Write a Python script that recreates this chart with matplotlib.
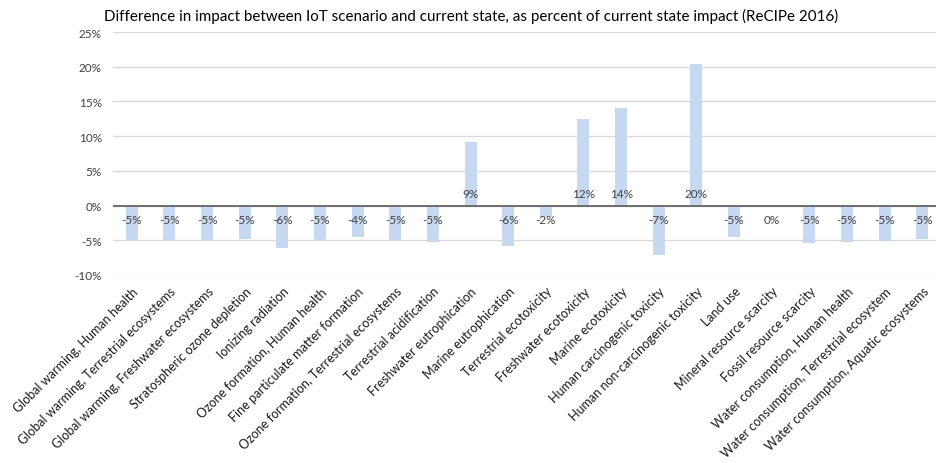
import matplotlib.pyplot as plt
import numpy as np

plt.rcParams['font.family'] = ['Lato', 'DejaVu Sans']

# Catégories d'impact (ReCiPe 2016)
categories = [
    'Global warming, Human health',
    'Global warming, Terrestrial ecosystems',
    'Global warming, Freshwater ecosystems',
    'Stratospheric ozone depletion',
    'Ionizing radiation',
    'Ozone formation, Human health',
    'Fine particulate matter formation',
    'Ozone formation, Terrestrial ecosystems',
    'Terrestrial acidification',
    'Freshwater eutrophication',
    'Marine eutrophication',
    'Terrestrial ecotoxicity',
    'Freshwater ecotoxicity',
    'Marine ecotoxicity',
    'Human carcinogenic toxicity',
    'Human non-carcinogenic toxicity',
    'Land use',
    'Mineral resource scarcity',
    'Fossil resource scarcity',
    'Water consumption, Human health',
    'Water consumption, Terrestrial ecosystem',
    'Water consumption, Aquatic ecosystems',
]

# Différence en pourcentage
values = [-5.0, -5.0, -5.0, -4.85, -6.1, -5.0, -4.5, -5.0, -5.2, 9.1,
          -5.85, -1.7, 12.4, 14.0, -7.05, 20.4, -4.55, 0.0, -5.45, -5.2,
          -5.15, -4.75]

fig = plt.figure(figsize=(9.36, 4.64), dpi=100)
ax = fig.add_axes([113 / 936, 1 - 276 / 464, 828 / 936, 243 / 464])

x = np.arange(len(categories))
ax.bar(x, values, width=0.32, color='#c6d9f0', zorder=2)

ax.set_xlim(-0.5, len(categories) - 0.5)
ax.set_ylim(-10, 25)
ax.set_yticks(range(-10, 30, 5))
ax.set_yticklabels([f'{v}%' for v in range(-10, 30, 5)], fontsize=8.5, color='#404040')
ax.yaxis.grid(True, color='#d9d9d9', linewidth=1, zorder=0)
ax.axhline(0, color='#595959', linewidth=1.2, zorder=3)
for s in ax.spines.values():
    s.set_visible(False)
ax.tick_params(length=0, pad=8)

ax.set_xticks(x)
ax.set_xticklabels(categories, rotation=45, ha='right', rotation_mode='anchor',
                   fontsize=9, color='#1a1a1a')
ax.tick_params(axis='x', pad=7)

for xi, v in zip(x, values):
    lab = f'{round(v):d}%'
    if v > 0:
        ax.annotate(lab, (xi, 0), xytext=(0, 9), textcoords='offset points',
                    ha='center', va='center', fontsize=8.5, color='#404040', zorder=4)
    else:
        ax.annotate(lab, (xi, 0), xytext=(0, -10), textcoords='offset points',
                    ha='center', va='center', fontsize=8.5, color='#404040', zorder=4)

fig.text(471 / 936, 1 - 16 / 464,
         'Difference in impact between IoT scenario and current state, as percent of current state impact (ReCIPe 2016)',
         ha='center', va='center', fontsize=10.9, color='#000000')

plt.savefig('out.png', dpi=100)
